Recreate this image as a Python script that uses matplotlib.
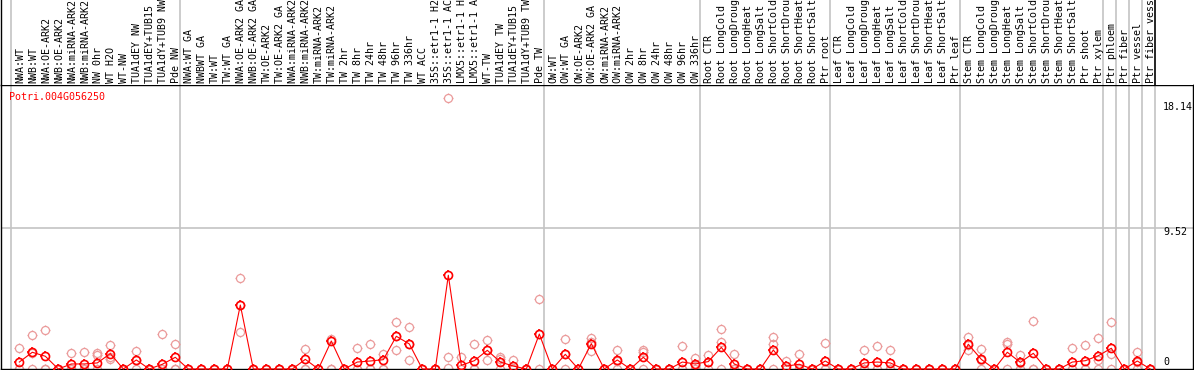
import numpy as np
import matplotlib.pyplot as plt
from matplotlib.path import Path

# gene shown in the top-left corner
gene = "Potri.004G056250"

# sample labels, left to right
labels = [
    "NWA:WT", "NWB:WT", "NWA:OE-ARK2", "NWB:OE-ARK2", "NWA:miRNA-ARK2", "NWB:miRNA-ARK2",
    "NW 0hr", "WT H2O", "WT-NW", "TUA1dEY NW", "TUA1dEY+TUB15 NW", "TUA1dY+TUB9 NW", "Pde NW",
    "NWA:WT GA", "NWBWT GA", "TW:WT", "TW:WT GA", "NWA:OE-ARK2 GA", "NWB:OE-ARK2 GA",
    "TW:OE-ARK2", "TW:OE-ARK2 GA", "NWA:miRNA-ARK2 GA", "NWB:miRNA-ARK2 GA", "TW:miRNA-ARK2",
    "TW:miRNA-ARK2 GA", "TW 2hr", "TW 8hr", "TW 24hr", "TW 48hr", "TW 96hr", "TW 336hr",
    "WT ACC", "35S::etr1-1 H2O", "35S::etr1-1 ACC", "LMX5::etr1-1 H2O", "LMX5::etr1-1 ACC",
    "WT-TW", "TUA1dEY TW", "TUA1dEY+TUB15 TW", "TUA1dY+TUB9 TW", "Pde TW",
    "OW:WT", "OW:WT GA", "OW:OE-ARK2", "OW:OE-ARK2 GA", "OW:miRNA-ARK2", "OW:miRNA-ARK2 GA",
    "OW 2hr", "OW 8hr", "OW 24hr", "OW 48hr", "OW 96hr", "OW 336hr",
    "Root CTR", "Root LongCold", "Root LongDrought", "Root LongHeat", "Root LongSalt",
    "Root ShortCold", "Root ShortDrought", "Root ShortHeat", "Root ShortSalt", "Ptr root",
    "Leaf CTR", "Leaf LongCold", "Leaf LongDrought", "Leaf LongHeat", "Leaf LongSalt",
    "Leaf ShortCold", "Leaf ShortDrought", "Leaf ShortHeat", "Leaf ShortSalt", "Ptr leaf",
    "Stem CTR", "Stem LongCold", "Stem LongDrought", "Stem LongHeat", "Stem LongSalt",
    "Stem ShortCold", "Stem ShortDrought", "Stem ShortHeat", "Stem ShortSalt", "Ptr shoot",
    "Ptr xylem", "Ptr phloem", "Ptr fiber", "Ptr vessel", "Ptr fiber vessel",
]

# mean expression per sample
means = [
    0.47, 1.13, 0.86, 0, 0.34, 0.34, 0.41, 1.04, 0, 0.61, 0, 0.32, 0.79,
    0, 0, 0, 0, 4.32, 0, 0, 0, 0, 0.65, 0, 1.89, 0, 0.47, 0.54, 0.63, 2.21, 1.69,
    0, 0, 6.33, 0.25, 0.56, 1.26, 0.47, 0.20, 0, 2.36,
    0, 0.99, 0, 1.71, 0, 0.61, 0, 0.79, 0, 0, 0.47, 0.34,
    0.50, 1.46, 0.34, 0, 0, 1.28, 0.20, 0.32, 0, 0.54,
    0, 0, 0.41, 0.47, 0.41, 0, 0, 0, 0, 0,
    1.67, 0.65, 0, 1.13, 0.45, 1.06, 0, 0, 0.47, 0.56, 0.90,
    1.40, 0, 0.54, 0,
]

# replicate values per sample
reps = [
    [1.40, 0, 0], [2.30, 1.10, 0], [2.64, 0, 0], [0, 0, 0], [1.08, 0, 0], [1.13, 0, 0],
    [1.08, 0.95, 0], [1.62, 0.82, 0.68], [0, 0, 0], [1.22, 0.61, 0], [0, 0, 0], [2.36, 0, 0],
    [1.69, 0, 0],
    [0, 0, 0], [0, 0, 0], [0, 0, 0], [0, 0, 0], [6.13, 4.31, 2.52], [0, 0, 0], [0, 0, 0],
    [0, 0, 0], [0, 0, 0], [1.35, 0, 0], [0, 0, 0], [2.05, 0, 0], [0, 0, 0], [1.40, 0, 0],
    [1.69, 0, 0], [1.01, 0, 0], [3.15, 2.21, 1.26], [2.82, 1.69, 0.59], [0, 0, 0], [0, 0, 0],
    [18.3, 0.79, 0.06], [0.79, 0, 0], [1.69, 0, 0], [1.96, 1.26, 0.61], [0.79, 0.65, 0],
    [0.63, 0, 0], [0, 0, 0], [4.71, 2.37, 0],
    [0, 0, 0], [2.03, 0.99, 0], [0, 0, 0], [2.07, 1.84, 1.22], [0, 0, 0], [1.28, 0.55, 0],
    [0, 0, 0], [1.28, 1.13, 0], [0, 0, 0], [0, 0, 0], [1.53, 0, 0], [0.77, 0.25, 0],
    [0.97, 0.50, 0], [2.68, 1.85, 0], [1.01, 0, 0], [0, 0, 0], [0, 0, 0], [2.16, 1.69, 0],
    [0.56, 0, 0], [1.01, 0, 0], [0, 0, 0], [1.76, 0, 0],
    [0, 0, 0], [0, 0, 0], [1.28, 0, 0], [1.53, 0, 0], [1.28, 0, 0], [0, 0, 0], [0, 0, 0],
    [0, 0, 0], [0, 0, 0], [0, 0, 0],
    [2.14, 1.60, 1.28], [1.33, 0.60, 0], [0, 0, 0], [1.85, 1.69, 0], [0.92, 0.43, 0],
    [3.22, 0, 0], [0, 0, 0], [0, 0, 0], [1.44, 0, 0], [1.60, 0, 0], [2.12, 0.61, 0],
    [3.15, 1.01, 0], [0, 0, 0], [1.13, 0.50, 0], [0, 0, 0],
]

# sample index where each group starts (last = end)
group_edges = [0, 13, 41, 53, 63, 73, 84, 85, 86, 87, 88]
ytick_vals = [0, 9.52, 18.14]
ytick_labels = ["0", "9.52", "18.14"]

W, H = 1194, 370
FONT = "DejaVu Sans Mono"
FS = 7.2


def px_box(l, t, r, b):
    return [l / W, 1 - b / H, (r - l) / W, (b - t) / H]


# four little ticks sticking out of the circle
tick_mk = Path([(0.7, 0), (1, 0), (-0.7, 0), (-1, 0), (0, 0.7), (0, 1), (0, -0.7), (0, -1)],
               [Path.MOVETO, Path.LINETO] * 4)

fig = plt.figure(figsize=(W / 100, H / 100), dpi=100)
ax = fig.add_axes(px_box(1, 85, 1193, 369))
top = fig.add_axes(px_box(1, 0, 1193, 85), sharex=ax)

col_px, col0 = 13.0, 11.0
ax.set_xlim((1 - col0) / col_px, (1193 - col0) / col_px)
unit_px = 141 / 9.52
ax.set_ylim(0, (369 - 85) / unit_px)
top.set_ylim(0, 1)

x = np.arange(len(means)) + 0.64

# group separators
for e in group_edges:
    ax.axvline(e, color="#c4c4c4", lw=1.2, zorder=1)
    top.axvline(e, color="black" if e == group_edges[-1] else "#c4c4c4", lw=1.2, zorder=1)
ax.axhline(9.52, color="#c4c4c4", lw=1.2, zorder=1)

# replicates
rx = np.concatenate([[xi] * len(r) for xi, r in zip(x, reps)])
ry = np.concatenate(reps)
pink = "#eb9a9a"
ax.plot(rx, ry, linestyle="none", marker="o", ms=5.8, mec=pink, mfc="none",
        mew=0.9, zorder=2, clip_on=False)
ax.plot(rx, ry, linestyle="none", marker=tick_mk, ms=7.8, mec=pink,
        mew=0.9, zorder=2, clip_on=False)

# means
ax.plot(x, means, color="red", lw=0.8, zorder=3, clip_on=False)
ax.plot(x, means, linestyle="none", marker="o", ms=5.8, mec="red", mfc="none",
        mew=1.2, zorder=4, clip_on=False)
ax.plot(x, means, linestyle="none", marker=tick_mk, ms=7.8, mec="red",
        mew=1.2, zorder=4, clip_on=False)

ax.text((9 - 1) / 1192, (369 - 97) / 284, gene, transform=ax.transAxes, color="red",
        family=FONT, fontsize=FS, ha="left", va="center")

tick_x = (1163 - col0) / col_px
offsets = [5, -3, -4.5]
for v, s, off in zip(ytick_vals, ytick_labels, offsets):
    ax.annotate(s, (tick_x, v), xytext=(0, off), textcoords="offset points",
                family=FONT, fontsize=FS, ha="left", va="center", annotation_clip=False)

for xi, lab in zip(x, labels):
    top.text(xi + 0.05, 2 / 85, lab, rotation=90, ha="center", va="bottom",
             family=FONT, fontsize=FS, clip_on=False)

ax.set_xticks([])
ax.set_yticks([])
for s in ax.spines.values():
    s.set_linewidth(1.0)
    s.set_color("black")
top.set_xticks([])
top.set_yticks([])
for name, s in top.spines.items():
    s.set_visible(name == "left")
    s.set_linewidth(1.0)

fig.savefig("out.png", dpi=100)
